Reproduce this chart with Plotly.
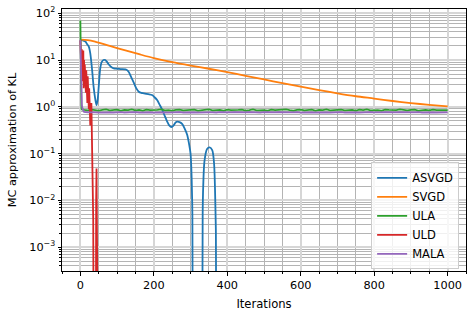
import plotly.graph_objects as go

# ---------------- data ----------------
asvgd_it = [0, 5, 10, 14, 18, 23, 27, 32, 36, 41, 44, 47, 50, 54, 58, 63, 68, 73, 78, 85,
            91, 100, 110, 123, 128, 132, 139, 146, 152, 159, 166, 173, 185, 195, 202, 209,
            216, 223, 230, 236, 242, 248, 254, 259, 264, 270, 277, 284, 291, 296, 300, 303,
            305, 306, 320, 332, 333, 334.5, 338, 345, 352, 359, 364, 367.5, 369, 370]
asvgd_kl = [26.8, 26.5, 25.5, 24.7, 22, 19.3, 13.9, 6.1, 2.7, 1.39, 1.08, 1.4, 2.7, 6.5, 9.0,
            10.0, 10.0, 9.0, 7.9, 7.0, 6.6, 6.5, 6.4, 6.3, 6.0, 5.5, 4.2, 3.2, 2.5, 2.1, 1.98,
            1.94, 1.86, 1.78, 1.6, 1.39, 1.1, 0.86, 0.63, 0.49, 0.4, 0.37, 0.4, 0.46, 0.48,
            0.47, 0.43, 0.34, 0.25, 0.16, 0.1, 0.03, 0.005, 1e-5, None, 1e-5, 0.005, 0.02,
            0.07, 0.125, 0.135, 0.118, 0.062, 0.0085, 0.002, 1e-5]

svgd_it = [0, 20, 40, 80, 120, 160, 200, 250, 300, 350, 400, 450, 500, 550, 600, 650, 700,
           750, 800, 850, 900, 950, 1000]
svgd_kl = [27.2, 26.7, 24.8, 20.0, 16.2, 13.3, 11.0, 9.0, 7.6, 6.5, 5.5, 4.6, 3.85, 3.2,
           2.7, 2.28, 1.94, 1.68, 1.50, 1.33, 1.20, 1.10, 1.02]

ula_head_it = [0, 1, 2, 3, 4, 6, 8]
ula_head_kl = [70, 6, 1.1, 0.92, 0.88, 0.86, 0.87]
ula_tail_it = list(range(10, 1001, 10))
ula_tail_kl = [0.86, 0.84, 0.87, 0.85, 0.83, 0.86, 0.88, 0.84, 0.85, 0.87,
               0.83, 0.86, 0.85, 0.88, 0.84, 0.86, 0.83, 0.87, 0.85, 0.84,
               0.86, 0.88, 0.84, 0.85, 0.83, 0.86, 0.87, 0.84, 0.86, 0.85,
               0.87, 0.83, 0.85, 0.86, 0.88, 0.84, 0.85, 0.86, 0.83, 0.87,
               0.85, 0.84, 0.86, 0.87, 0.83, 0.85, 0.88, 0.84, 0.86, 0.85,
               0.83, 0.87, 0.85, 0.86, 0.84, 0.88, 0.85, 0.83, 0.86, 0.87,
               0.84, 0.85, 0.87, 0.83, 0.86, 0.85, 0.88, 0.84, 0.86, 0.85,
               0.87, 0.84, 0.85, 0.86, 0.83, 0.87, 0.85, 0.88, 0.84, 0.86,
               0.85, 0.83, 0.87, 0.86, 0.84, 0.85, 0.88, 0.85, 0.84, 0.86,
               0.87, 0.83, 0.85, 0.86, 0.84, 0.87, 0.85, 0.86, 0.84, 0.85]

uld_it = [0, 1, 2, 3, 4, 5, 6, 7, 8, 9, 10, 11, 12, 13, 14, 15, 16, 17, 18, 19, 20, 21,
          22, 23, 24, 25, 26, 27, 28, 29, 30, 31, 32, 33, 34, 35, 36, 38, 40, 42, 43, 44,
          45, 46, 48, 50, 1000]
uld_kl = [26, 12, 20, 6, 17, 3.5, 15, 4, 16, 2.5, 10, 2.7, 8, 3, 6.5, 2, 6, 1.6, 5, 1.2,
          4.5, 1.0, 3.5, 0.9, 2.5, 0.6, 1.5, 0.4, 0.9, 0.5, 1.2, 0.35, 0.6, 0.2, 0.05,
          0.004, 1e-5, 1e-6, 1e-5, 1e-6, 0.01, 0.048, 0.01, 1e-6, 1e-7, 1e-8, 1e-8]

mala_head_it = [0, 1, 2, 4, 6, 8]
mala_head_kl = [27, 8, 2, 1.1, 0.9, 0.82]
mala_tail_it = list(range(10, 1001, 10))
mala_tail_kl = [0.78, 0.76, 0.77, 0.76, 0.75, 0.76, 0.77, 0.76, 0.75, 0.76,
                0.77, 0.75, 0.76, 0.76, 0.77, 0.75, 0.76, 0.77, 0.76, 0.75,
                0.76, 0.77, 0.76, 0.75, 0.76, 0.76, 0.77, 0.75, 0.76, 0.77,
                0.76, 0.75, 0.76, 0.77, 0.76, 0.76, 0.75, 0.77, 0.76, 0.75,
                0.76, 0.77, 0.76, 0.75, 0.76, 0.77, 0.76, 0.76, 0.75, 0.77,
                0.76, 0.75, 0.76, 0.77, 0.76, 0.75, 0.76, 0.76, 0.77, 0.75,
                0.76, 0.77, 0.76, 0.75, 0.76, 0.77, 0.76, 0.75, 0.76, 0.76,
                0.77, 0.75, 0.76, 0.77, 0.76, 0.75, 0.76, 0.76, 0.77, 0.76,
                0.75, 0.76, 0.77, 0.76, 0.75, 0.76, 0.77, 0.76, 0.75, 0.76,
                0.76, 0.77, 0.75, 0.76, 0.77, 0.76, 0.75, 0.76, 0.77, 0.76]

ytick_vals = [1e-3, 1e-2, 1e-1, 1e0, 1e1, 1e2]
ytick_text = ["10<sup>\u22123</sup>", "10<sup>\u22122</sup>", "10<sup>\u22121</sup>",
              "10<sup>0</sup>", "10<sup>1</sup>", "10<sup>2</sup>"]
xtick_vals = [0, 200, 400, 600, 800, 1000]

series = [
    ("ASVGD", asvgd_it, asvgd_kl, "#1f77b4", "spline"),
    ("SVGD", svgd_it, svgd_kl, "#ff7f0e", "spline"),
    ("ULA", ula_head_it + ula_tail_it, ula_head_kl + ula_tail_kl, "#2ca02c", "linear"),
    ("ULD", uld_it, uld_kl, "#d62728", "linear"),
    ("MALA", mala_head_it + mala_tail_it, mala_head_kl + mala_tail_kl, "#9467bd", "linear"),
]

FONT = "DejaVu Sans"
fig = go.Figure()
for name, xs, ys, col, shp in series:
    fig.add_trace(go.Scatter(x=xs, y=ys, mode="lines", name=name,
                             line=dict(color=col, width=1.8, shape=shp, smoothing=0.8),
                             connectgaps=False))

minor_y = [m * 10 ** e for e in range(-4, 3) for m in range(2, 10)]

fig.update_layout(
    width=474, height=317,
    margin=dict(l=62, r=8, t=9, b=46),
    paper_bgcolor="white", plot_bgcolor="white",
    font=dict(family=FONT, size=11.3, color="black"),
    showlegend=True,
    legend=dict(x=0.983, y=0.006, xanchor="right", yanchor="bottom",
                bgcolor="rgba(255,255,255,0.8)", bordercolor="#cccccc", borderwidth=1,
                font=dict(family=FONT, size=11.5), tracegroupgap=0, itemwidth=30),
    xaxis=dict(range=[-50, 1050], tickmode="array", tickvals=xtick_vals, automargin=False,
               ticks="outside", ticklen=3.5, tickwidth=1, tickcolor="black",
               showline=True, linecolor="black", linewidth=1, mirror=True,
               showgrid=True, gridcolor="#d6d6d6", gridwidth=1.6, zeroline=False,
               minor=dict(dtick=50, tick0=0, ticks="outside", ticklen=2, tickcolor="black",
                          showgrid=True, gridcolor="#b4b4b4", gridwidth=0.8),
               title=dict(text="Iterations", standoff=8, font=dict(size=11.6))),
    yaxis=dict(type="log", range=[-3.51, 2.09], tickmode="array", automargin=False,
               tickvals=ytick_vals, ticktext=ytick_text,
               ticks="outside", ticklen=3.5, tickwidth=1, tickcolor="black",
               showline=True, linecolor="black", linewidth=1, mirror=True,
               showgrid=True, gridcolor="#d6d6d6", gridwidth=1.6, zeroline=False,
               minor=dict(tickmode="array", tickvals=minor_y, ticks="outside", ticklen=2,
                          tickcolor="black", showgrid=True, gridcolor="#b4b4b4",
                          gridwidth=0.8),
               title=dict(text="MC approximation of KL", standoff=10, font=dict(size=11.3))),
)

fig.write_html("out.html", config={"displayModeBar": False},
               post_script="document.body.style.margin='0';")
